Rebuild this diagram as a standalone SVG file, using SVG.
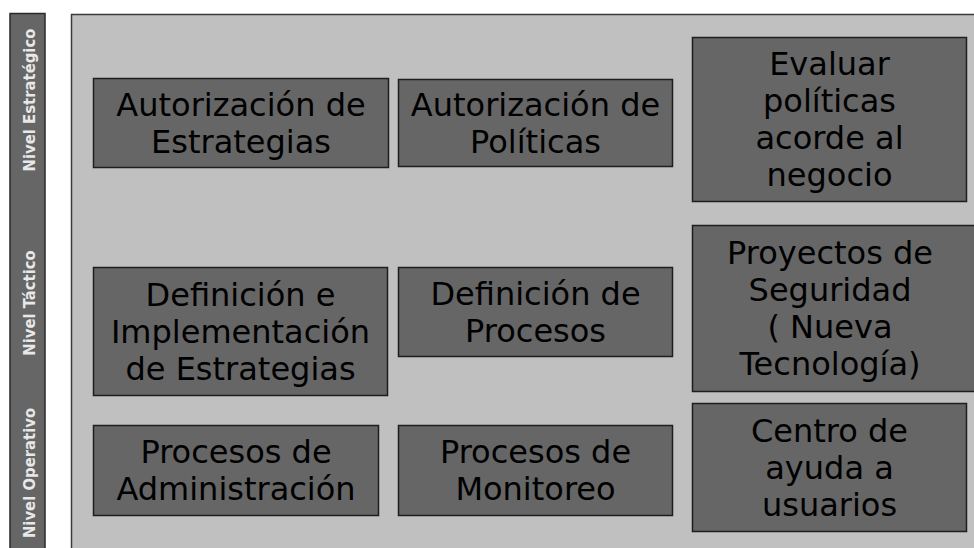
<svg xmlns="http://www.w3.org/2000/svg" width="974" height="548" viewBox="0 0 974 548">
<style>
.box{fill:#666666;stroke:#1e1e1e;stroke-width:1.5}
.t{font-family:"DejaVu Sans",Verdana,sans-serif;font-size:32px;fill:#000;text-anchor:middle}
.lv{font-family:"DejaVu Sans",sans-serif;font-weight:bold;font-size:16.5px;font-stretch:condensed;fill:#e8e8e8;text-anchor:middle}
</style>
<rect x="0" y="0" width="974" height="548" fill="#ffffff"/>
<g id="levels">
<rect x="10" y="13.5" width="35" height="540" fill="#666666" stroke="#2a2a2a" stroke-width="1.5"/>
<text class="lv" transform="translate(35,100) rotate(-90)">Nivel Estratégico</text>
<text class="lv" transform="translate(35,303) rotate(-90)">Nivel Táctico</text>
<text class="lv" transform="translate(35,473) rotate(-90)">Nivel Operativo</text>
</g>
<g id="panel">
<rect x="71.5" y="14.5" width="910" height="540" fill="#c0c0c0" stroke="#3a3a3a" stroke-width="1.5"/>
</g>
<g id="connectors"></g>
<g id="n1"><rect class="box" x="93.5" y="78.5" width="295" height="89"/>
<text class="t" x="241" y="115.5">Autorización de</text><text class="t" x="241" y="152.5">Estrategias</text></g>
<g id="n2"><rect class="box" x="398.5" y="79.5" width="274" height="87"/>
<text class="t" x="535.5" y="115.5">Autorización de</text><text class="t" x="535.5" y="152.5">Políticas</text></g>
<g id="n3"><rect class="box" x="692.5" y="37.5" width="274" height="164"/>
<text class="t" x="829.5" y="75">Evaluar</text><text class="t" x="829.5" y="112">políticas</text><text class="t" x="829.5" y="149">acorde al</text><text class="t" x="829.5" y="186">negocio</text></g>
<g id="n4"><rect class="box" x="93.5" y="267.5" width="294" height="128"/>
<text class="t" x="240.5" y="305.5">Definición e</text><text class="t" x="240.5" y="342.5">Implementación</text><text class="t" x="240.5" y="379.5">de Estrategias</text></g>
<g id="n5"><rect class="box" x="398.5" y="267.5" width="274" height="89"/>
<text class="t" x="535.5" y="304.5">Definición de</text><text class="t" x="535.5" y="341.5">Procesos</text></g>
<g id="n6"><rect class="box" x="692.5" y="225.5" width="290" height="166"/>
<text class="t" x="830" y="264">Proyectos de</text><text class="t" x="830" y="301">Seguridad</text><text class="t" x="830" y="338">( Nueva</text><text class="t" x="830" y="375">Tecnología)</text></g>
<g id="n7"><rect class="box" x="93.5" y="425.5" width="285" height="90"/>
<text class="t" x="236" y="463">Procesos de</text><text class="t" x="236" y="500">Administración</text></g>
<g id="n8"><rect class="box" x="398.5" y="425.5" width="274" height="90"/>
<text class="t" x="535.5" y="463">Procesos de</text><text class="t" x="535.5" y="500">Monitoreo</text></g>
<g id="n9"><rect class="box" x="692.5" y="403.5" width="274" height="128"/>
<text class="t" x="829.5" y="441.5">Centro de</text><text class="t" x="829.5" y="478.5">ayuda a</text><text class="t" x="829.5" y="515.5">usuarios</text></g>
</svg>
